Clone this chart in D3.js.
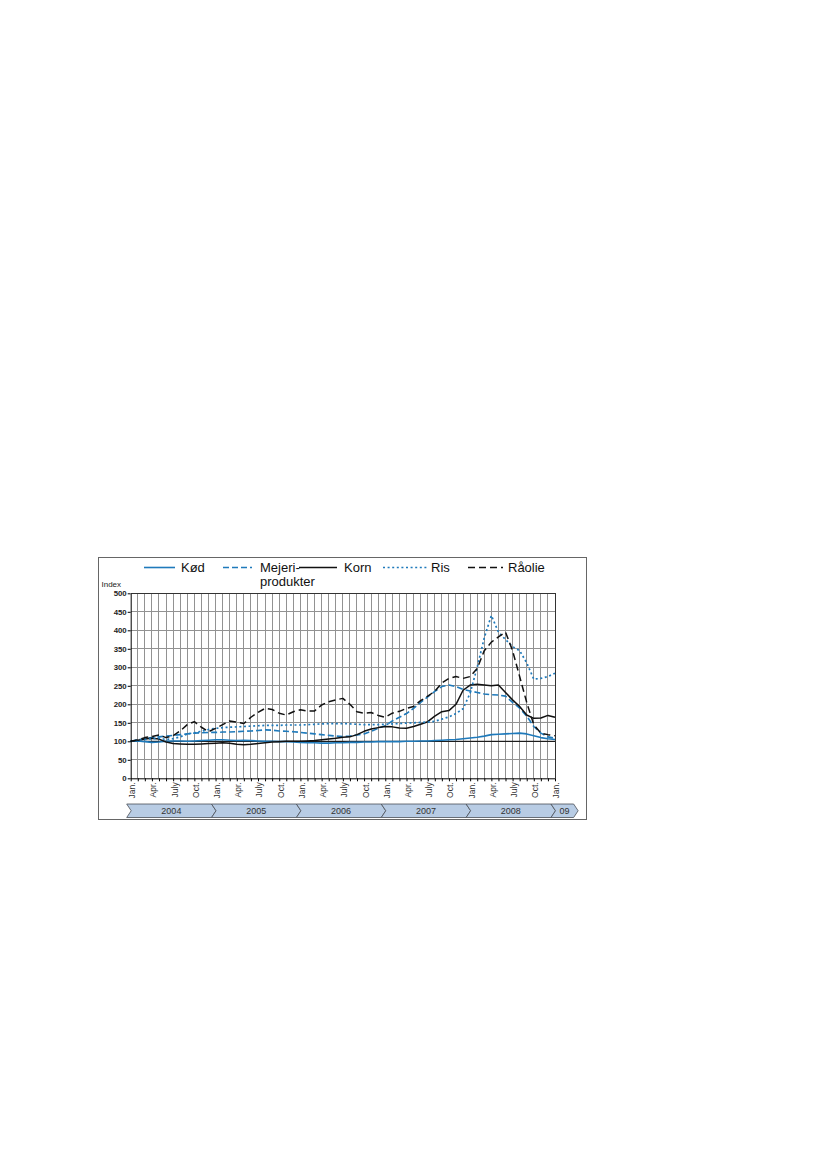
<!DOCTYPE html>
<html><head><meta charset="utf-8">
<script src="https://cdn.jsdelivr.net/npm/d3@7"></script>
<style>body{margin:0;background:#fff}svg{display:block}text{font-family:"Liberation Sans",Arial,sans-serif}</style>
</head><body>
<svg id="c" width="827" height="1169"></svg>
<script>
// Months: index 0 = Jan 2004 ... 60 = Jan 2009
const months = d3.range(61);
const monthTickLabels = ["Jan.", "Apr.", "July", "Oct."];
const yearLabels = ["2004", "2005", "2006", "2007", "2008", "09"];
const yTicks = [0, 50, 100, 150, 200, 250, 300, 350, 400, 450, 500];
const yTitle = "Index";
const seriesNames = ["Kød", "Mejeri-|produkter", "Korn", "Ris", "Råolie"];

const kod = [
100,101,99,97,98,100,101,101,100,101,102,103,
104,104,103,102,103,102,101,100,100,99,99,98,
97,96,96,95,95,96,96,97,97,98,98,99,
99,99,99,100,100,101,101,102,103,104,105,107,
109,111,114,118,119,120,121,122,120,115,110,107,
105];
const mejeri = [
100,104,107,110,112,114,116,118,120,122,123,124,
124,125,125,126,127,128,129,131,130,128,127,126,
124,122,120,118,116,114,113,114,117,120,127,135,
142,155,165,175,189,205,220,235,248,252,248,240,
236,232,228,226,225,222,205,190,168,140,122,112,
108];
const korn = [
100,103,106,108,106,98,94,93,92,92,93,94,
95,96,95,92,91,92,94,96,98,99,100,100,
100,101,102,104,106,108,111,112,118,127,133,137,
140,139,136,135,140,146,153,168,180,183,200,238,
252,254,252,250,252,232,212,194,171,162,163,170,
165];
const ris = [
100,103,105,107,108,105,107,112,120,123,127,132,
135,137,138,139,140,141,142,143,143,143,144,144,
144,145,146,147,148,148,148,147,146,145,145,145,
146,147,148,149,150,151,152,154,160,166,175,188,
230,300,380,440,395,375,356,345,312,268,270,275,
284];
const raolie = [
100,104,110,113,117,110,115,128,145,153,138,126,
135,145,155,152,148,165,178,189,186,176,171,180,
185,182,182,198,207,212,216,200,180,176,178,170,
165,176,181,189,194,210,222,235,258,270,275,270,
275,297,345,368,382,395,345,275,205,145,122,118,
115];

const BLUE = "#1f7abb", BLACK = "#111";
const styles = [
  {data: kod,    color: BLUE,  dash: null,  w: 1.6},
  {data: mejeri, color: BLUE,  dash: "6,3", w: 1.6},
  {data: korn,   color: BLACK, dash: null,  w: 1.5},
  {data: ris,    color: BLUE,  dash: "2,2.6", w: 1.7},
  {data: raolie, color: BLACK, dash: "7,4", w: 1.5}
];

const svg = d3.select("#c");
const x = d3.scaleLinear().domain([0, 60]).range([130.7, 555]);
const y = d3.scaleLinear().domain([0, 500]).range([778.3, 593.3]);

// outer frame
svg.append("rect").attr("x", 98.5).attr("y", 557.5).attr("width", 488).attr("height", 262)
  .attr("fill", "#fff").attr("stroke", "#666").attr("stroke-width", 1);

// grid
const grid = svg.append("g").attr("stroke", "#929292").attr("stroke-width", 1).attr("shape-rendering", "crispEdges");
grid.selectAll("line.v").data(months.slice(1)).join("line")
  .attr("x1", d => x(d)).attr("x2", d => x(d)).attr("y1", y(0)).attr("y2", y(500));
grid.selectAll("line.h").data(yTicks.slice(1)).join("line")
  .attr("x1", x(0)).attr("x2", x(60)).attr("y1", d => y(d)).attr("y2", d => y(d));

// plot frame top/right
svg.append("path").attr("d", `M${x(0)},${y(500)}H${x(60)}V${y(0)}`)
  .attr("fill", "none").attr("stroke", "#333").attr("stroke-width", 1).attr("shape-rendering", "crispEdges");

// reference line at 100
svg.append("line").attr("x1", x(0)).attr("x2", x(60)).attr("y1", y(100)).attr("y2", y(100))
  .attr("stroke", "#000").attr("stroke-width", 1);

// series
const line = d3.line().x((d, i) => x(i)).y(d => y(d));
styles.forEach(s => {
  svg.append("path").attr("d", line(s.data)).attr("fill", "none")
    .attr("stroke", s.color).attr("stroke-width", s.w)
    .attr("stroke-dasharray", s.dash).attr("stroke-linejoin", "round");
});

// y axis
const ya = svg.append("g").attr("transform", `translate(${x(0)},0)`)
  .call(d3.axisLeft(y).tickValues(yTicks).tickSize(3).tickSizeOuter(0).tickPadding(1));
ya.select(".domain").attr("stroke", "#000");
ya.selectAll(".tick line").attr("stroke", "#000");
ya.selectAll("text").attr("font-size", 7.8).attr("font-weight", "bold").attr("fill", "#222")
  .style("font-family", "'Liberation Sans',Arial,sans-serif");
svg.append("text").attr("x", 101.5).attr("y", 587).attr("font-size", 8).attr("fill", "#222").text(yTitle);

// x axis
const xa = svg.append("g").attr("transform", `translate(0,${y(0)})`)
  .call(d3.axisBottom(x).tickValues(months).tickSize(3).tickSizeOuter(0).tickFormat(""));
xa.select(".domain").attr("stroke", "#000");
xa.selectAll(".tick line").attr("stroke", "#000");

const quarterMonths = months.filter(m => m % 3 === 0);
svg.append("g").selectAll("text").data(quarterMonths).join("text")
  .attr("transform", d => `translate(${x(d) + 1.5},${y(0) + 4}) rotate(-90)`)
  .attr("text-anchor", "end").attr("dy", "0.35em").attr("font-size", 8.5).attr("fill", "#333")
  .text(d => monthTickLabels[(d % 12) / 3]);

// year chevrons
const bandTop = 804, bandBot = 817.5, tip = 4.5;
const bandStarts = yearLabels.map((_, k) => x(12 * k) - 4);
const bandEnds = yearLabels.map((_, k) => k < yearLabels.length - 1 ? x(12 * (k + 1)) - 4 : x(63.2) - 4);
const bands = svg.append("g");
yearLabels.forEach((lab, k) => {
  const x0 = bandStarts[k], x1 = bandEnds[k], mid = (bandTop + bandBot) / 2;
  bands.append("path")
    .attr("d", `M${x0},${bandTop}L${x1},${bandTop}L${x1 + tip},${mid}L${x1},${bandBot}L${x0},${bandBot}L${x0 + tip},${mid}Z`)
    .attr("fill", "#b8cce4").attr("stroke", "#4a4f57").attr("stroke-width", 0.8);
  bands.append("text").attr("x", (x0 + x1 + tip) / 2).attr("y", mid + 3.2)
    .attr("text-anchor", "middle").attr("font-size", 9).attr("fill", "#333").text(lab);
});

// legend
const legendLines = [[144, 175], [223, 252], [299, 337], [383, 427], [468, 503]];
const legendText = [181, 260, 344, 431, 508];
const lg = svg.append("g");
seriesNames.forEach((name, i) => {
  const s = styles[i];
  lg.append("line").attr("x1", legendLines[i][0]).attr("x2", legendLines[i][1])
    .attr("y1", 567.5).attr("y2", 567.5).attr("stroke", s.color).attr("stroke-width", s.w)
    .attr("stroke-dasharray", s.dash);
  const parts = name.split("|");
  parts.forEach((p, j) => {
    lg.append("text").attr("x", legendText[i]).attr("y", 572 + j * 14)
      .attr("font-size", 13).attr("fill", "#111").text(p);
  });
});
</script>
</body></html>
